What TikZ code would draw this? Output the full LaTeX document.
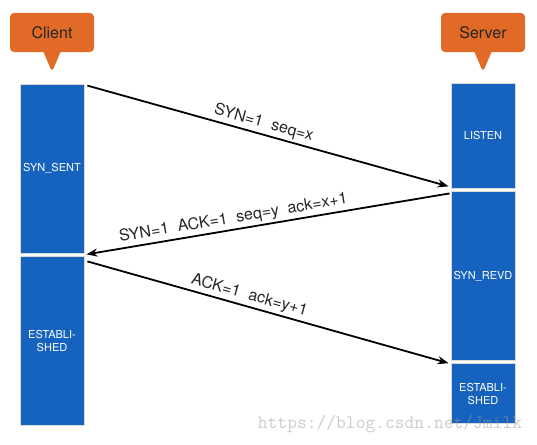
\documentclass[tikz,border=0pt]{standalone}
\usepackage{fontspec}
\setmainfont{TeX Gyre Heros}
\usetikzlibrary{positioning, shapes.callouts, arrows.meta}
\definecolor{tagorange}{RGB}{224,106,38}
\definecolor{barblue}{RGB}{21,99,190}
\begin{document}
\begin{tikzpicture}[x=1pt, y=-1pt,
          tag/.style={rectangle callout, fill=tagorange, rounded corners=4pt, minimum width=84pt, minimum height=39pt,
            callout pointer width=17pt, font=\fontsize{16}{18}\selectfont, text=black!85},
          bar/.style={rectangle, fill=barblue, draw=black!15, line width=0.8pt, minimum width=64pt, inner sep=0pt,
            text=white, align=center, font=\fontsize{11}{13}\selectfont},
          msg/.style={line width=1.8pt, -{Stealth[length=11pt, width=8pt]}},
          lbl/.style={sloped, above, inner sep=2.5pt, font=\fontsize{16}{18}\selectfont, text=black!85}
        ]
        \useasboundingbox (0,0) rectangle (537,444);
        % client side
        \node[tag, callout absolute pointer={(52,72)}] (client) at (52,32.5) {Client};
        \node[bar, minimum height=169pt] (c1) at (52,168.5) {SYN\_SENT};
        \node[bar, minimum height=169pt, below=3pt of c1] (c2) {ESTABLI-\\SHED};
        % server side
        \node[tag, callout absolute pointer={(483,72)}] (server) at (483,32.5) {Server};
        \node[bar, minimum height=105pt] (s1) at (483,135.5) {LISTEN};
        \node[bar, minimum height=169pt, below=3pt of s1] (s2) {SYN\_REVD};
        \node[bar, minimum height=60pt, below=2pt of s2] (s3) {ESTABLI-\\SHED};
        % handshake
        \draw[msg] ([xshift=3pt, yshift=-2pt]c1.north east) -- node[lbl, pos=0.48] {SYN=1\ \ seq=x} ([xshift=-2pt, yshift=2pt]s1.south west);
        \draw[msg] ([xshift=-1pt, yshift=-2pt]s2.north west) -- node[lbl, pos=0.59] {SYN=1\ \ ACK=1\ \ seq=y\ \ ack=x+1} ([xshift=2pt, yshift=-1pt]c1.south east);
        \draw[msg] ([xshift=3pt, yshift=-5pt]c2.north east) -- node[lbl, pos=0.44] {ACK=1\ \ ack=y+1} ([xshift=-2pt]s3.north west);
        \node[text=black!40, text opacity=0.5, font=\ttfamily\fontsize{19}{20}\selectfont] (mark) at (390,424) {https://blog.csdn.net/Jmilk};
      \end{tikzpicture}
\end{document}
